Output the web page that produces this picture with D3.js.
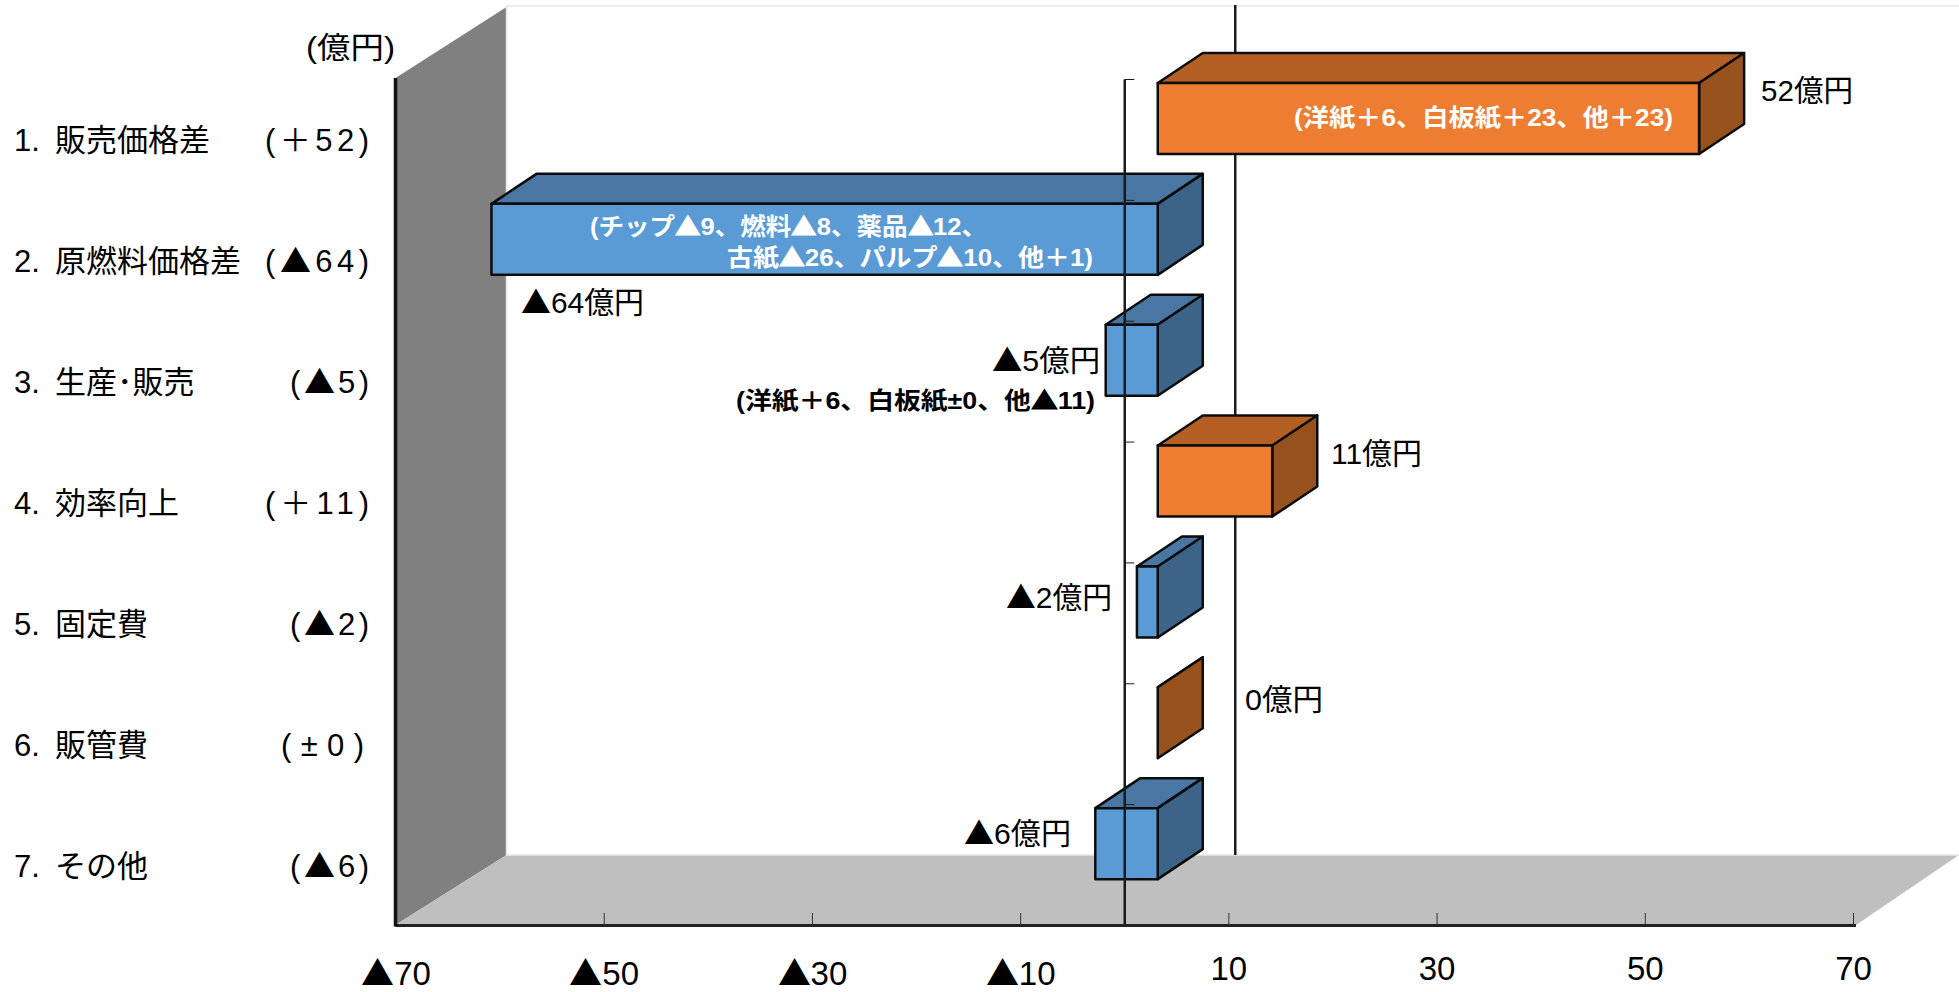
<!DOCTYPE html>
<html lang="ja">
<head>
<meta charset="utf-8">
<title>営業利益増減要因</title>
<script src="https://cdn.jsdelivr.net/npm/d3@7/dist/d3.min.js"></script>
<style>
  /* Full-size triangle mark for the negative sign */
  @font-face { font-family: "Mark"; src: local("Noto Sans CJK JP"), local("Noto Sans CJK JP Regular"), local("NotoSansCJKjp-Regular"); unicode-range: U+25B2; }
  html, body { margin: 0; padding: 0; background: #fff; }
  svg { display: block; }
  text { font-family: "Mark", "Liberation Sans", "Noto Sans CJK JP", sans-serif; fill: #000; }
</style>
</head>
<body>
<svg id="chart" width="1959" height="992"></svg>
<script>
// Profit variance factors, in 億円
const categories = ["販売価格差", "原燃料価格差", "生産･販売", "効率向上", "固定費", "販管費", "その他"];
const values = [52, -64, -5, 11, -2, 0, -6];
const signedLabels = ["(＋52)", "(▲64)", "(▲5)", "(＋11)", "(▲2)", "(±0)", "(▲6)"];
const valueLabels = ["52億円", "▲64億円", "▲5億円", "11億円", "▲2億円", "0億円", "▲6億円"];
const axisTicks = [-70, -50, -30, -10, 10, 30, 50, 70];
const unitLabel = "(億円)";
const breakdownLines = [
  "(洋紙＋6、白板紙＋23、他＋23)",
  "(チップ▲9、燃料▲8、薬品▲12、",
  "古紙▲26、パルプ▲10、他＋1)",
  "(洋紙＋6、白板紙±0、他▲11)"
];

// Projection of the box: floor and wall depth, bars sit midway inside it
const W = 1959, H = 992;
const wallDepth = { dx: 111, dy: 70 };
const barDepth = { dx: 45, dy: 30 };
const barInset = { dx: 33.5, top: 4, height: 71 };
const frontTop = 79, frontBottom = 925;

const x = d3.scaleLinear().domain([-70, 70]).range([395.5, 1853]);
const slot = d3.scaleLinear().domain([0, 7]).range([frontTop, frontBottom]);

const palette = {
  pos: { front: "#ED7D31", top: "#B46025", side: "#97521E" },
  neg: { front: "#5B9BD5", top: "#4A76A3", side: "#3B6488" }
};

const svg = d3.select("#chart");
const poly = pts => pts.map(p => p.join(",")).join(" ");

// Side wall and floor
const x0 = x(-70), xEnd = x(70) + 3;
svg.append("polygon").attr("fill", "#808080")
  .attr("points", poly([[x0, frontTop - 1], [x0 + wallDepth.dx, 7], [x0 + wallDepth.dx, frontBottom - wallDepth.dy], [x0, frontBottom]]));
svg.append("polygon").attr("fill", "#BFBFBF")
  .attr("points", poly([[x0, frontBottom], [x0 + wallDepth.dx, frontBottom - wallDepth.dy], [W, frontBottom - wallDepth.dy], [xEnd, frontBottom]]));
svg.append("path").attr("fill", "none").attr("stroke", "#e8e8e8").attr("stroke-width", 1.5)
  .attr("d", `M${W},6H${x0 + wallDepth.dx}V${frontBottom - wallDepth.dy}H${W}`);

// Zero line on the back plane, behind the bars
svg.append("line").attr("stroke", "#1a1a1a").attr("stroke-width", 2.5)
  .attr("x1", x(0) + wallDepth.dx).attr("x2", x(0) + wallDepth.dx)
  .attr("y1", 5).attr("y2", frontBottom - wallDepth.dy);

// Bars, drawn as three faces each
const bars = svg.append("g").selectAll("g").data(values).join("g")
  .attr("stroke", "#0c0c0c").attr("stroke-width", 2.5).attr("stroke-linejoin", "round");

bars.each(function (v, i) {
  const g = d3.select(this);
  const c = v >= 0 ? palette.pos : palette.neg;
  const l = Math.min(x(0), x(v)) + barInset.dx;
  const r = Math.max(x(0), x(v)) + barInset.dx;
  const t = slot(i) + barInset.top;
  const b = t + barInset.height;
  const { dx, dy } = barDepth;
  g.append("polygon").attr("fill", c.top)
    .attr("points", poly([[l, t], [l + dx, t - dy], [r + dx, t - dy], [r, t]]));
  g.append("polygon").attr("fill", c.side)
    .attr("points", poly([[r, t], [r + dx, t - dy], [r + dx, b - dy], [r, b]]));
  if (r > l) {
    g.append("rect").attr("fill", c.front)
      .attr("x", l).attr("y", t).attr("width", r - l).attr("height", b - t);
  }
});

// Category axis along zero, in front of the bars
const zeroAxis = svg.append("g").attr("transform", `translate(${x(0)},0)`)
  .call(d3.axisRight(slot).ticks(7).tickSize(10).tickSizeOuter(0).tickFormat(""));
zeroAxis.select(".domain").attr("stroke", "#1a1a1a").attr("stroke-width", 2.5);
zeroAxis.selectAll(".tick line").attr("stroke", "#1a1a1a").attr("stroke-width", 1);

// Value axis on the front edge
const valueAxis = svg.append("g").attr("transform", `translate(0,${frontBottom})`)
  .call(d3.axisBottom(x).tickValues(axisTicks).tickSizeInner(-12).tickSizeOuter(0)
    .tickFormat(d => (d < 0 ? "▲" : "") + Math.abs(d)));
valueAxis.select(".domain").attr("stroke", "#222").attr("stroke-width", 3)
  .attr("d", `M${x0},0.5H${xEnd}`);
valueAxis.selectAll(".tick line").attr("stroke", "#333").attr("stroke-width", 1);
valueAxis.selectAll(".tick text")
  .attr("font-size", 33)
  .attr("y", d => d < 0 ? 60 : 55)
  .attr("dy", 0)
  .style("font-family", '"Mark", "Liberation Sans", "Noto Sans CJK JP", sans-serif')
  .attr("fill", "#000");

svg.append("line").attr("stroke", "#111").attr("stroke-width", 3.5)
  .attr("x1", x0).attr("x2", x0).attr("y1", frontTop - 1).attr("y2", frontBottom + 1.5);

// Left column: numbered factor names and signed amounts
const rowY = i => slot(i) + (slot(1) - slot(0)) / 2 + 12;
const signedWidths = [104, 104, 79, 104, 79, 83, 79];
const signedRight = [369, 369, 369, 369, 369, 364, 369];
const rows = svg.append("g").selectAll("g").data(categories).join("g");
rows.append("text").attr("x", 14).attr("y", (d, i) => rowY(i)).attr("font-size", 31)
  .text((d, i) => `${i + 1}.`);
rows.append("text").attr("x", 55).attr("y", (d, i) => rowY(i)).attr("font-size", 31)
  .text(d => d);
rows.append("text").attr("x", (d, i) => signedRight[i] - signedWidths[i]).attr("y", (d, i) => rowY(i))
  .attr("font-size", 31)
  .attr("textLength", (d, i) => signedWidths[i]).attr("lengthAdjust", "spacing")
  .text((d, i) => signedLabels[i]);

svg.append("text").attr("x", 306).attr("y", 58).attr("font-size", 30)
  .attr("textLength", 89).attr("lengthAdjust", "spacingAndGlyphs").text(unitLabel);

// Amount labels beside each bar
const amountPlacement = [
  { x: 1761, y: 101, w: 92 },
  { x: 521, y: 313, w: 123 },
  { x: 992, y: 371, w: 108 },
  { x: 1331, y: 464, w: 91 },
  { x: 1006, y: 608, w: 106 },
  { x: 1245, y: 710, w: 78 },
  { x: 964, y: 844, w: 107 }
];
svg.append("g").selectAll("text").data(valueLabels).join("text")
  .attr("x", (d, i) => amountPlacement[i].x).attr("y", (d, i) => amountPlacement[i].y)
  .attr("font-size", 30)
  .attr("textLength", (d, i) => amountPlacement[i].w).attr("lengthAdjust", "spacingAndGlyphs")
  .text(d => d);

// Breakdown notes
const notePlacement = [
  { x: 1294, y: 126, w: 379, fill: "#fff" },
  { x: 590, y: 235, w: 397, fill: "#fff" },
  { x: 727, y: 266, w: 366, fill: "#fff" },
  { x: 736, y: 409, w: 359, fill: "#000" }
];
svg.append("g").selectAll("text").data(breakdownLines).join("text")
  .attr("x", (d, i) => notePlacement[i].x).attr("y", (d, i) => notePlacement[i].y)
  .attr("font-size", 24).attr("font-weight", 700)
  .style("fill", (d, i) => notePlacement[i].fill)
  .attr("textLength", (d, i) => notePlacement[i].w).attr("lengthAdjust", "spacingAndGlyphs")
  .text(d => d);
</script>
</body>
</html>
